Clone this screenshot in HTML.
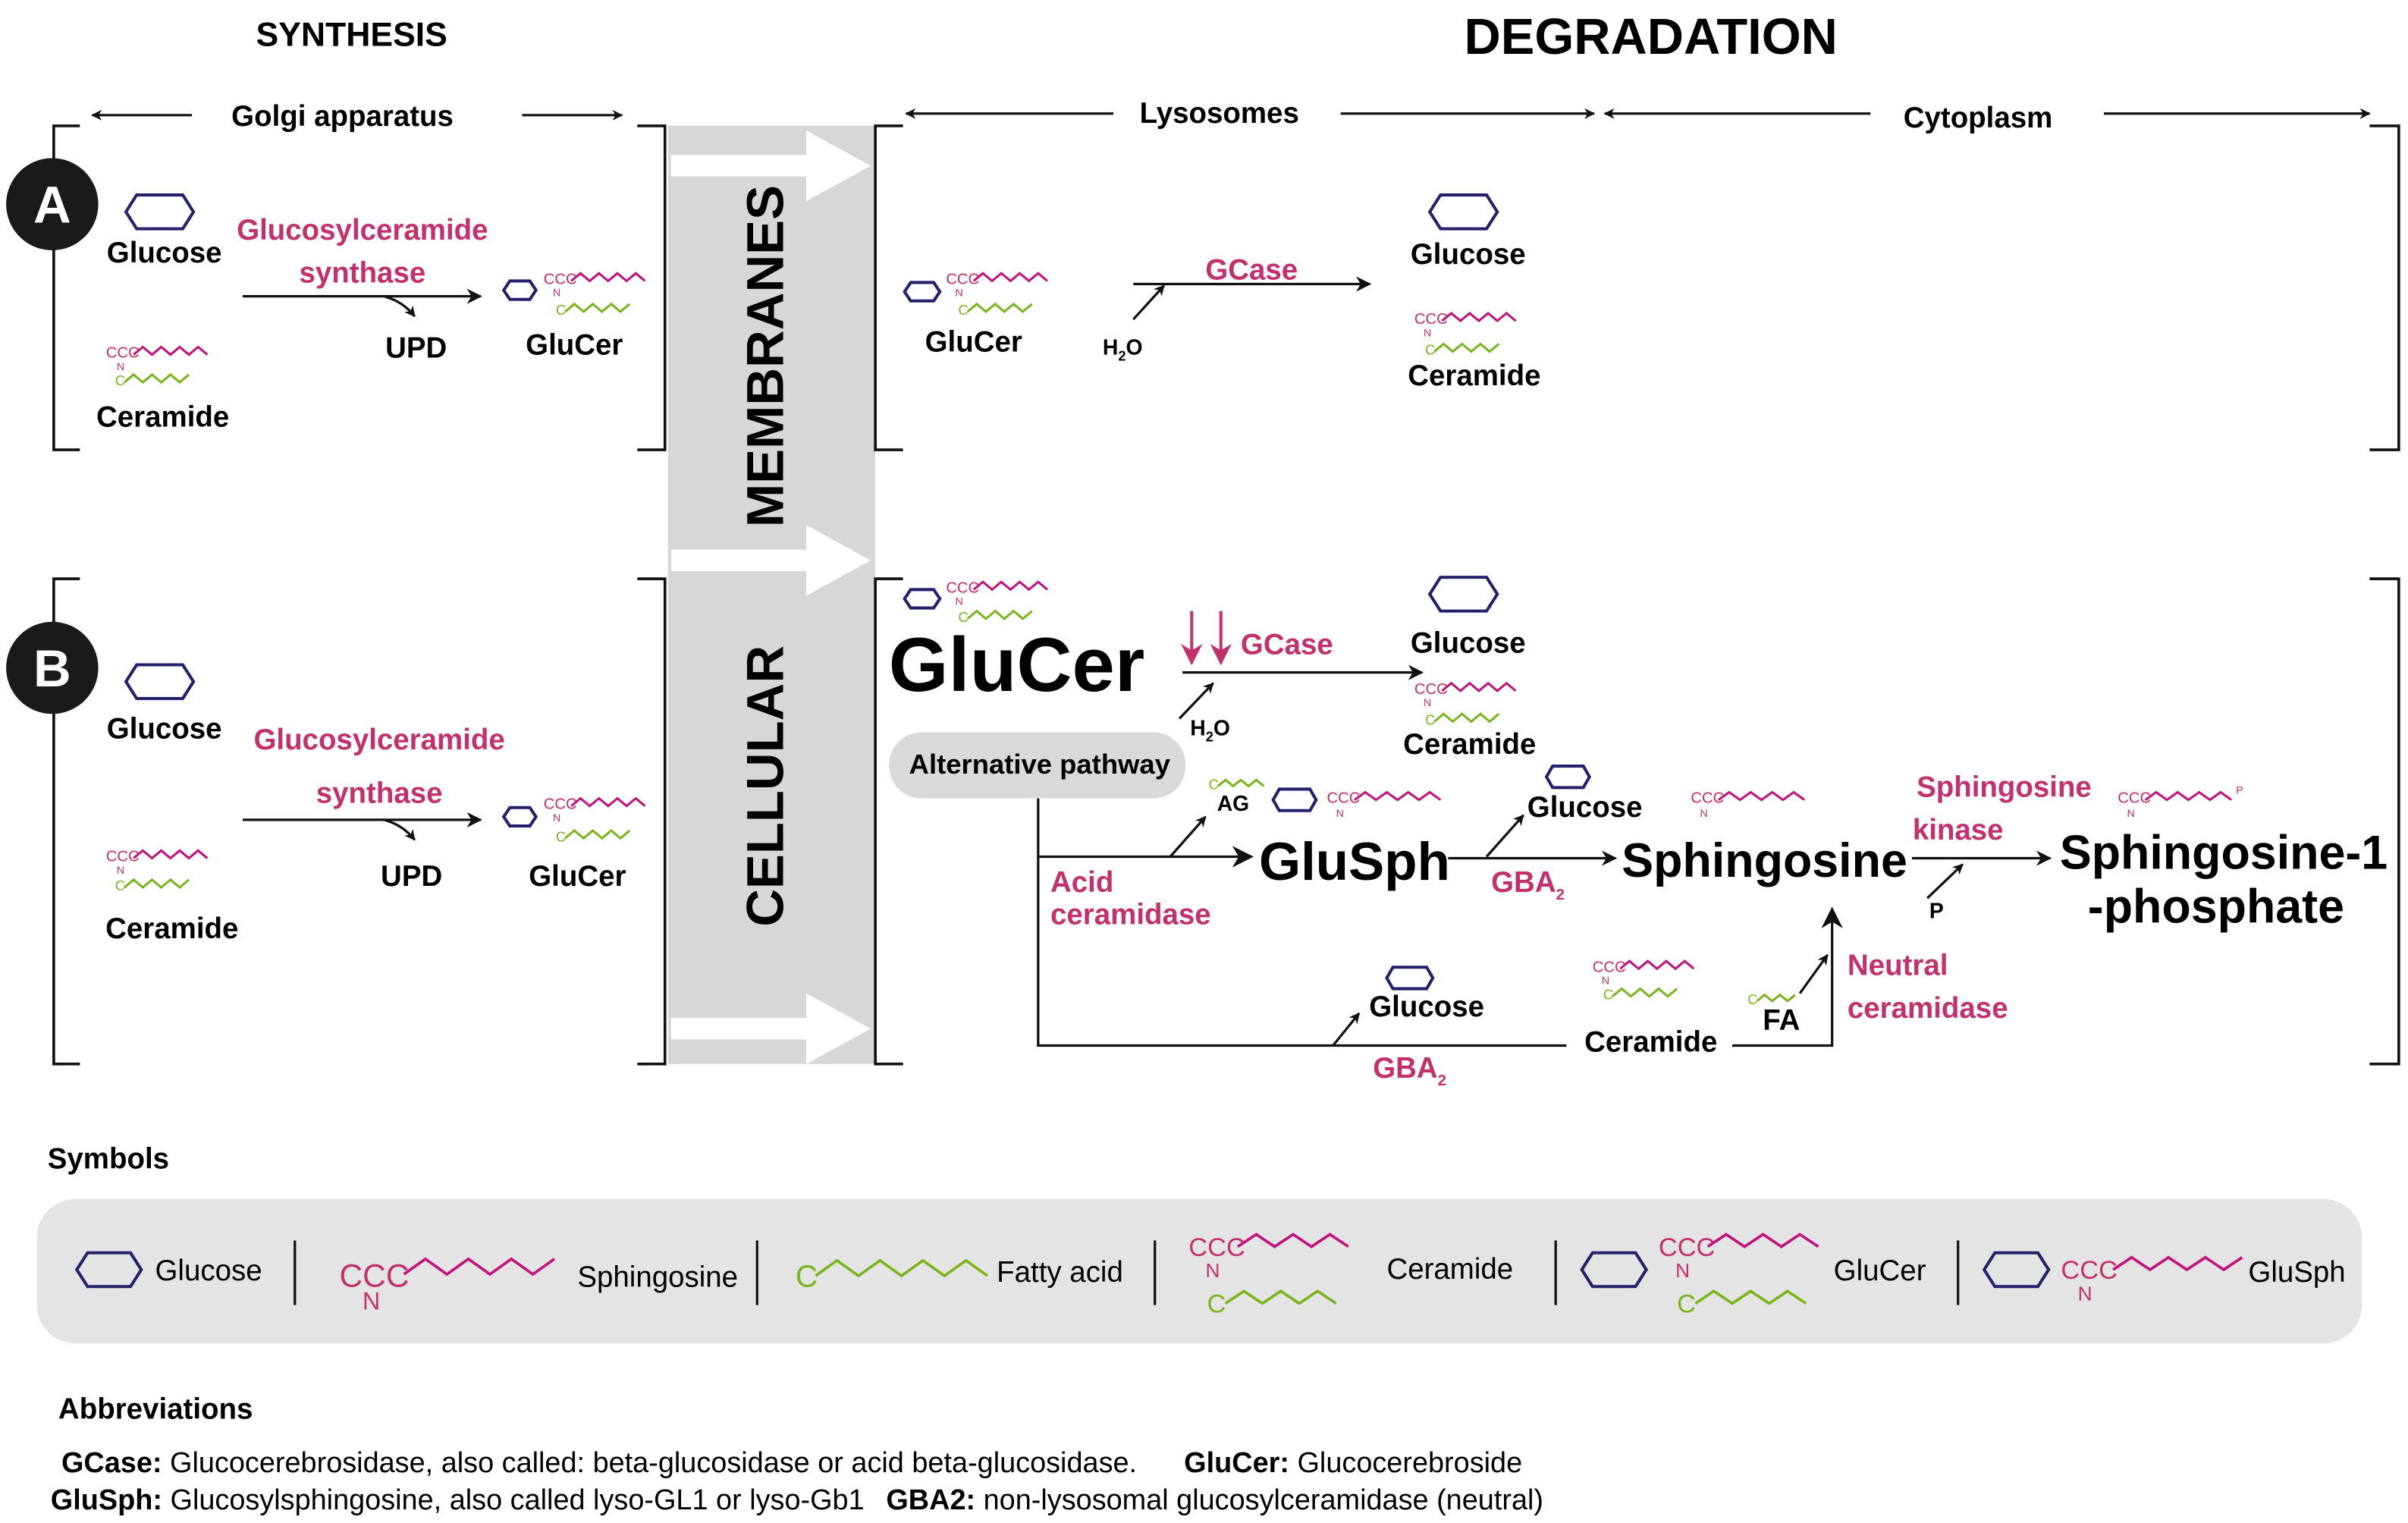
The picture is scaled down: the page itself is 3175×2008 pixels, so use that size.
<!DOCTYPE html>
<html><head><meta charset="utf-8"><style>
html,body{margin:0;padding:0;background:#fff}
svg{display:block}
text{font-family:"Liberation Sans",Arial,sans-serif}
.b{font-weight:bold}
.m{fill:#c2316c}
</style></head><body>
<svg width="3175" height="2008" viewBox="0 0 1568 992" preserveAspectRatio="none" xmlns="http://www.w3.org/2000/svg">
<defs>
<marker id="ah" viewBox="0 0 10 10" refX="9" refY="5" markerWidth="7" markerHeight="7" orient="auto" markerUnits="userSpaceOnUse"><path d="M0 0 L10 5 L0 10 L3 5z" fill="#111"/></marker>
<marker id="ahs" viewBox="0 0 10 10" refX="9" refY="5" markerWidth="10" markerHeight="10" orient="auto" markerUnits="userSpaceOnUse"><path d="M0 0 L10 5 L0 10 L3 5z" fill="#111"/></marker>
<marker id="ahl" viewBox="0 0 10 10" refX="9" refY="5" markerWidth="14" markerHeight="14" orient="auto" markerUnits="userSpaceOnUse"><path d="M0 0 L10 5 L0 10 L3 5z" fill="#111"/></marker>
<marker id="ahr" viewBox="0 0 10 10" refX="9" refY="5" markerWidth="14" markerHeight="14" orient="auto" markerUnits="userSpaceOnUse"><path d="M0 0 L10 5 L0 10 L3 5z" fill="#c2316c"/></marker>
</defs>
<g fill="none" stroke="#111" stroke-width="1.6">
<line x1="125" y1="75" x2="60" y2="75" marker-end="url(#ah)"/>
<line x1="340" y1="75" x2="405" y2="75" marker-end="url(#ah)"/>
<line x1="725" y1="74" x2="590" y2="74" marker-end="url(#ah)"/>
<line x1="873" y1="74" x2="1038" y2="74" marker-end="url(#ah)"/>
<line x1="1218" y1="74" x2="1045" y2="74" marker-end="url(#ah)"/>
<line x1="1370" y1="74" x2="1543" y2="74" marker-end="url(#ah)"/>
</g>
<rect x="435" y="82" width="135" height="611" fill="#d7d7d7"/>
<g fill="#fff">
<rect x="437" y="101" width="90" height="14"/><path d="M525 85 L567 108 L525 131z"/>
<rect x="437" y="358" width="90" height="14"/><path d="M525 342 L567 365 L525 388z"/>
<rect x="437" y="663" width="90" height="14"/><path d="M525 647 L567 670 L525 693z"/>
</g>
<text transform="translate(510,232) rotate(-90)" text-anchor="middle" class="b" font-size="34">MEMBRANES</text>
<text transform="translate(510,512) rotate(-90)" text-anchor="middle" class="b" font-size="34">CELLULAR</text>
<g fill="none" stroke="#111" stroke-width="1.8">
<path d="M52 82 H35 V293 H52"/><path d="M415 82 H433 V293 H415"/>
<path d="M588 82 H570 V293 H588"/><path d="M1543 82 H1562 V293 H1543"/>
<path d="M52 377 H35 V693 H52"/><path d="M415 377 H433 V693 H415"/>
<path d="M588 377 H570 V693 H588"/><path d="M1543 377 H1562 V693 H1543"/>
</g>
<text x="229" y="30" text-anchor="middle" class="b" font-size="22">SYNTHESIS</text>
<text x="1075" y="35" text-anchor="middle" class="b" font-size="33">DEGRADATION</text>
<text x="223" y="82" text-anchor="middle" class="b" font-size="19">Golgi apparatus</text>
<text x="794" y="80" text-anchor="middle" class="b" font-size="19">Lysosomes</text>
<text x="1288" y="83" text-anchor="middle" class="b" font-size="19">Cytoplasm</text>
<circle cx="34" cy="133" r="30" fill="#1a1a1a"/><text x="34" y="145" text-anchor="middle" fill="#fff" class="b" font-size="34">A</text>
<circle cx="34" cy="435" r="30" fill="#1a1a1a"/><text x="34" y="447" text-anchor="middle" fill="#fff" class="b" font-size="34">B</text>

<g fill="none" stroke="#24206a" stroke-width="2">
<path d="M82 138 l7 -11 h30 l7 11 l-7 11 h-30z"/>
<path d="M82 444 l7 -11 h30 l7 11 l-7 11 h-30z"/>
<path d="M931 138 l7 -11 h30 l7 11 l-7 11 h-30z"/>
<path d="M931 387 l7 -11 h30 l7 11 l-7 11 h-30z"/>
<path d="M328 189 l4 -6 h13 l4 6 l-4 6 h-13z"/>
<path d="M328 532 l4 -6 h13 l4 6 l-4 6 h-13z"/>
<path d="M589 190 l4 -6 h15 l4 6 l-4 6 h-15z"/>
<path d="M589 390 l4 -6 h15 l4 6 l-4 6 h-15z"/>
<path d="M829 521 l4 -7 h20 l4 7 l-4 7 h-20z"/>
<path d="M1007 506 l4 -7 h20 l4 7 l-4 7 h-20z"/>
<path d="M903 637 l4 -7 h22 l4 7 l-4 7 h-22z"/>
</g>
<g font-size="10" class="m">
<text x="354" y="185">CCC</text><text x="360" y="193" font-size="7">N</text>
<text x="354" y="527">CCC</text><text x="360" y="535" font-size="7">N</text>
<text x="69" y="233">CCC</text><text x="76" y="241" font-size="7">N</text>
<text x="69" y="561">CCC</text><text x="76" y="569" font-size="7">N</text>
<text x="616" y="185">CCC</text><text x="622" y="193" font-size="7">N</text>
<text x="616" y="386">CCC</text><text x="622" y="394" font-size="7">N</text>
<text x="921" y="211">CCC</text><text x="927" y="219" font-size="7">N</text>
<text x="921" y="452">CCC</text><text x="927" y="460" font-size="7">N</text>
<text x="864" y="523">CCC</text><text x="870" y="532" font-size="7">N</text>
<text x="1101" y="523">CCC</text><text x="1107" y="532" font-size="7">N</text>
<text x="1379" y="523">CCC</text><text x="1385" y="532" font-size="7">N</text><text x="1456" y="517" font-size="7">P</text>
<text x="1037" y="633">CCC</text><text x="1043" y="641" font-size="7">N</text>
</g>
<g font-size="9" fill="#7ab51d">
<text x="362" y="205">C</text><text x="75" y="251">C</text><text x="362" y="548">C</text><text x="75" y="580">C</text>
<text x="624" y="205">C</text><text x="624" y="405">C</text><text x="928" y="231">C</text><text x="928" y="472">C</text>
<text x="1044" y="651">C</text><text x="787" y="514">C</text><text x="1138" y="654">C</text>
</g>
<g fill="none" stroke="#c0147a" stroke-width="1.5">
<path d="M372 183 l6 -5 l6 5 l6 -5 l6 5 l6 -5 l6 5 l6 -5 l6 5"/>
<path d="M372 525 l6 -5 l6 5 l6 -5 l6 5 l6 -5 l6 5 l6 -5 l6 5"/>
<path d="M87 231 l6 -5 l6 5 l6 -5 l6 5 l6 -5 l6 5 l6 -5 l6 5"/>
<path d="M87 559 l6 -5 l6 5 l6 -5 l6 5 l6 -5 l6 5 l6 -5 l6 5"/>
<path d="M634 183 l6 -5 l6 5 l6 -5 l6 5 l6 -5 l6 5 l6 -5 l6 5"/>
<path d="M634 384 l6 -5 l6 5 l6 -5 l6 5 l6 -5 l6 5 l6 -5 l6 5"/>
<path d="M939 209 l6 -5 l6 5 l6 -5 l6 5 l6 -5 l6 5 l6 -5 l6 5"/>
<path d="M939 450 l6 -5 l6 5 l6 -5 l6 5 l6 -5 l6 5 l6 -5 l6 5"/>
<path d="M882 521 l7 -5 l7 5 l7 -5 l7 5 l7 -5 l7 5 l7 -5 l7 5"/>
<path d="M1119 521 l7 -5 l7 5 l7 -5 l7 5 l7 -5 l7 5 l7 -5 l7 5"/>
<path d="M1397 521 l7 -5 l7 5 l7 -5 l7 5 l7 -5 l7 5 l7 -5 l7 5"/>
<path d="M1055 631 l6 -5 l6 5 l6 -5 l6 5 l6 -5 l6 5 l6 -5 l6 5"/>
</g>
<g fill="none" stroke="#7ab51d" stroke-width="1.5">
<path d="M368 203 l6 -5 l6 5 l6 -5 l6 5 l6 -5 l6 5 l6 -5"/>
<path d="M368 546 l6 -5 l6 5 l6 -5 l6 5 l6 -5 l6 5 l6 -5"/>
<path d="M81 249 l6 -5 l6 5 l6 -5 l6 5 l6 -5 l6 5 l6 -5"/>
<path d="M81 578 l6 -5 l6 5 l6 -5 l6 5 l6 -5 l6 5 l6 -5"/>
<path d="M630 203 l6 -5 l6 5 l6 -5 l6 5 l6 -5 l6 5 l6 -5"/>
<path d="M630 403 l6 -5 l6 5 l6 -5 l6 5 l6 -5 l6 5 l6 -5"/>
<path d="M934 229 l6 -5 l6 5 l6 -5 l6 5 l6 -5 l6 5 l6 -5"/>
<path d="M934 470 l6 -5 l6 5 l6 -5 l6 5 l6 -5 l6 5 l6 -5"/>
<path d="M1050 649 l6 -5 l6 5 l6 -5 l6 5 l6 -5 l6 5 l6 -5"/>
<path d="M793 512 l5 -4 l5 4 l5 -4 l5 4 l5 -4 l5 4"/>
<path d="M1144 652 l5 -4 l5 4 l5 -4 l5 4 l5 -4"/>
</g>

<text x="107" y="171" text-anchor="middle" class="b" font-size="19">Glucose</text>
<text x="236" y="156" text-anchor="middle" class="b m" font-size="19">Glucosylceramide</text>
<text x="236" y="184" text-anchor="middle" class="b m" font-size="19">synthase</text>
<text x="271" y="233" text-anchor="middle" class="b" font-size="19">UPD</text>
<text x="374" y="231" text-anchor="middle" class="b" font-size="19">GluCer</text>
<text x="106" y="278" text-anchor="middle" class="b" font-size="19">Ceramide</text>
<g fill="none" stroke="#111" stroke-width="1.6">
<line x1="158" y1="193" x2="313" y2="193" marker-end="url(#ahs)"/>
<path d="M250 193 Q262 196 270 206" marker-end="url(#ah)"/>
<line x1="158" y1="534" x2="313" y2="534" marker-end="url(#ahs)"/>
<path d="M250 534 Q262 537 270 547" marker-end="url(#ah)"/>
<line x1="738" y1="185" x2="892" y2="185" marker-end="url(#ahs)"/>
<line x1="738" y1="208" x2="758" y2="186" marker-end="url(#ah)"/>
<line x1="770" y1="438" x2="926" y2="438" marker-end="url(#ahs)"/>
<line x1="768" y1="468" x2="790" y2="445" marker-end="url(#ah)"/>
<path d="M676 520 V681 H1020"/><path d="M1128 681 H1193 V592" marker-end="url(#ahl)"/>
<line x1="676" y1="558" x2="815" y2="558" marker-end="url(#ahl)"/>
<line x1="762" y1="558" x2="785" y2="532" marker-end="url(#ah)"/>
<line x1="943" y1="559" x2="1052" y2="559" marker-end="url(#ahs)"/>
<line x1="968" y1="558" x2="992" y2="531" marker-end="url(#ah)"/>
<line x1="1245" y1="559" x2="1335" y2="559" marker-end="url(#ahs)"/>
<line x1="1255" y1="585" x2="1278" y2="563" marker-end="url(#ah)"/>
<line x1="868" y1="681" x2="885" y2="660" marker-end="url(#ah)"/>
<line x1="1172" y1="647" x2="1190" y2="622" marker-end="url(#ah)"/>
</g>
<text x="634" y="229" text-anchor="middle" class="b" font-size="19">GluCer</text>
<text x="718" y="231" class="b" font-size="14">H<tspan font-size="9" dy="4">2</tspan><tspan dy="-4">O</tspan></text>
<text x="815" y="182" text-anchor="middle" class="b m" font-size="19">GCase</text>
<text x="956" y="172" text-anchor="middle" class="b" font-size="19">Glucose</text>
<text x="960" y="251" text-anchor="middle" class="b" font-size="19">Ceramide</text>
<text x="107" y="481" text-anchor="middle" class="b" font-size="19">Glucose</text>
<text x="247" y="488" text-anchor="middle" class="b m" font-size="19">Glucosylceramide</text>
<text x="247" y="523" text-anchor="middle" class="b m" font-size="19">synthase</text>
<text x="268" y="577" text-anchor="middle" class="b" font-size="19">UPD</text>
<text x="376" y="577" text-anchor="middle" class="b" font-size="19">GluCer</text>
<text x="112" y="611" text-anchor="middle" class="b" font-size="19">Ceramide</text>
<text x="662" y="450" text-anchor="middle" class="b" font-size="50">GluCer</text>
<g stroke="#c2316c" stroke-width="2" fill="none"><line x1="776" y1="398" x2="776" y2="432" marker-end="url(#ahr)"/><line x1="795" y1="398" x2="795" y2="432" marker-end="url(#ahr)"/></g>
<text x="838" y="426" text-anchor="middle" class="b m" font-size="19">GCase</text>
<text x="775" y="479" class="b" font-size="14">H<tspan font-size="9" dy="4">2</tspan><tspan dy="-4">O</tspan></text>
<text x="956" y="425" text-anchor="middle" class="b" font-size="19">Glucose</text>
<text x="957" y="491" text-anchor="middle" class="b" font-size="19">Ceramide</text>
<rect x="579" y="477" width="193" height="43" rx="21" fill="#d9d9d9"/>
<text x="677" y="504" text-anchor="middle" class="b" font-size="18">Alternative pathway</text>
<text x="803" y="528" text-anchor="middle" class="b" font-size="14">AG</text>
<text x="684" y="581" class="b m" font-size="19">Acid</text>
<text x="684" y="602" class="b m" font-size="19">ceramidase</text>
<text x="882" y="573" text-anchor="middle" class="b" font-size="35">GluSph</text>
<text x="1032" y="532" text-anchor="middle" class="b" font-size="19">Glucose</text>
<text x="971" y="581" class="b m" font-size="19">GBA<tspan font-size="10" dy="5">2</tspan></text>
<text x="1149" y="571" text-anchor="middle" class="b" font-size="31">Sphingosine</text>
<text x="1305" y="519" text-anchor="middle" class="b m" font-size="19">Sphingosine</text>
<text x="1275" y="547" text-anchor="middle" class="b m" font-size="19">kinase</text>
<text x="1261" y="598" text-anchor="middle" class="b" font-size="14">P</text>
<text x="1448" y="566" text-anchor="middle" class="b" font-size="31">Sphingosine-1</text>
<text x="1443" y="601" text-anchor="middle" class="b" font-size="31">-phosphate</text>
<text x="929" y="662" text-anchor="middle" class="b" font-size="19">Glucose</text>
<text x="894" y="702" class="b m" font-size="19">GBA<tspan font-size="10" dy="5">2</tspan></text>
<text x="1075" y="685" text-anchor="middle" class="b" font-size="19">Ceramide</text>
<text x="1160" y="671" text-anchor="middle" class="b" font-size="19">FA</text>
<text x="1203" y="635" class="b m" font-size="19">Neutral</text>
<text x="1203" y="663" class="b m" font-size="19">ceramidase</text>

<text x="31" y="761" class="b" font-size="19">Symbols</text>
<rect x="24" y="781" width="1514" height="94" rx="25" fill="#e4e4e4"/>
<g stroke="#111" stroke-width="1.6"><line x1="192" y1="808" x2="192" y2="850"/><line x1="493" y1="808" x2="493" y2="850"/><line x1="752" y1="808" x2="752" y2="850"/><line x1="1013" y1="808" x2="1013" y2="850"/><line x1="1275" y1="808" x2="1275" y2="850"/></g>
<g fill="none" stroke="#24206a" stroke-width="2">
<path d="M50 827 l7 -11 h28 l7 11 l-7 11 h-28z"/>
<path d="M1030 827 l7 -11 h28 l7 11 l-7 11 h-28z"/>
<path d="M1292 827 l7 -11 h28 l7 11 l-7 11 h-28z"/>
</g>
<g font-size="19"><text x="101" y="834">Glucose</text><text x="376" y="838">Sphingosine</text><text x="649" y="835">Fatty acid</text><text x="903" y="833">Ceramide</text><text x="1194" y="834">GluCer</text><text x="1464" y="835">GluSph</text></g>
<g class="m"><text x="221" y="838" font-size="21">CCC</text><text x="236" y="853" font-size="16">N</text>
<text x="774" y="818" font-size="17">CCC</text><text x="785" y="832" font-size="13">N</text>
<text x="1080" y="818" font-size="17">CCC</text><text x="1091" y="832" font-size="13">N</text>
<text x="1342" y="833" font-size="17">CCC</text><text x="1353" y="847" font-size="13">N</text></g>
<g fill="#7ab51d"><text x="518" y="838" font-size="20">C</text><text x="786" y="855" font-size="17">C</text><text x="1092" y="855" font-size="17">C</text></g>
<g fill="none" stroke="#c0147a" stroke-width="1.8">
<path d="M263 830 l14 -10 l14 10 l14 -10 l14 10 l14 -10 l14 10 l14 -10"/>
<path d="M806 812 l12 -8 l12 8 l12 -8 l12 8 l12 -8 l12 8"/>
<path d="M1112 812 l12 -8 l12 8 l12 -8 l12 8 l12 -8 l12 8"/>
<path d="M1376 827 l12 -8 l12 8 l12 -8 l12 8 l12 -8 l12 8 l12 -8"/>
</g>
<g fill="none" stroke="#7ab51d" stroke-width="1.8">
<path d="M531 831 l14 -10 l14 10 l14 -10 l14 10 l14 -10 l14 10 l14 -10 l14 10"/>
<path d="M798 849 l12 -8 l12 8 l12 -8 l12 8 l12 -8 l12 8"/>
<path d="M1104 849 l12 -8 l12 8 l12 -8 l12 8 l12 -8 l12 8"/>
</g>
<text x="38" y="924" class="b" font-size="19">Abbreviations</text>
<text x="40" y="959" font-size="18.7"><tspan class="b">GCase:</tspan> Glucocerebrosidase, also called: beta-glucosidase or acid beta-glucosidase.</text>
<text x="771" y="959" font-size="18.7"><tspan class="b">GluCer:</tspan> Glucocerebroside</text>
<text x="33" y="983" font-size="18.7"><tspan class="b">GluSph:</tspan> Glucosylsphingosine, also called lyso-GL1 or lyso-Gb1</text>
<text x="577" y="983" font-size="18.7"><tspan class="b">GBA2:</tspan> non-lysosomal glucosylceramidase (neutral)</text>
</svg>
</body></html>
